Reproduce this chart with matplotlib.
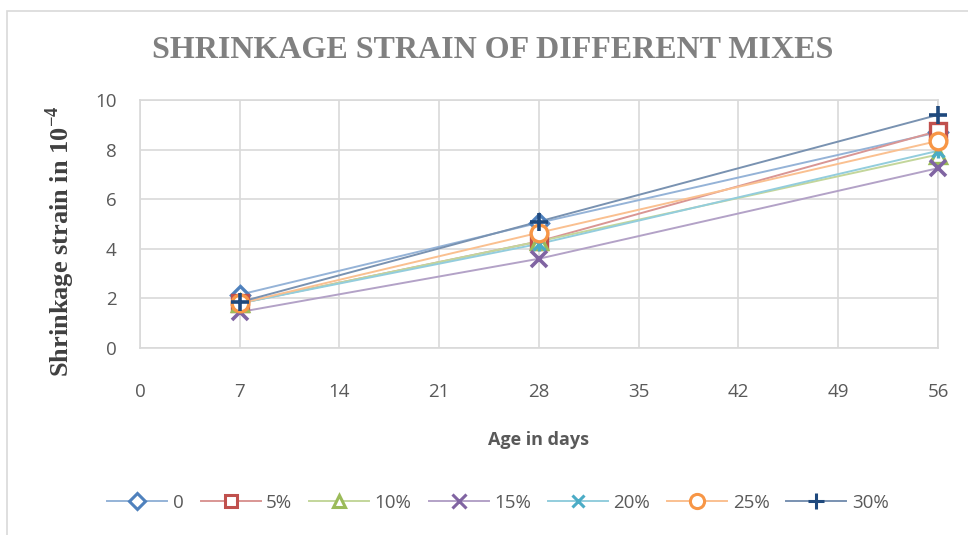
import matplotlib
matplotlib.use("Agg")
import matplotlib.pyplot as plt
from matplotlib.patches import Rectangle
from matplotlib.lines import Line2D
from matplotlib.colors import to_rgb

days = [7, 28, 56]
series_names = ["0", "5%", "10%", "15%", "20%", "25%", "30%"]
values = {
    "0":   [2.15, 5.05, 8.7],
    "5%":  [1.8, 4.3, 8.75],
    "10%": [1.8, 4.3, 7.8],
    "15%": [1.45, 3.6, 7.25],
    "20%": [1.8, 4.2, 7.95],
    "25%": [1.8, 4.65, 8.35],
    "30%": [1.85, 5.1, 9.4],
}
x_ticks = [0, 7, 14, 21, 28, 35, 42, 49, 56]
y_ticks = [0, 2, 4, 6, 8, 10]

colors = ["#4F81BD", "#C0504D", "#9BBB59", "#8064A2", "#4BACC6", "#F79646", "#1F497D"]
markers = ["D", "s", "^", "x", "X", "o", "+"]
msizes = [9, 11, 11, 12, 10, 12, 13]


def lighten(c, f=0.5):
    r, g, b = to_rgb(c)
    return (r + (1 - r) * f, g + (1 - g) * f, b + (1 - b) * f)


fig = plt.figure(figsize=(9.68, 5.35), dpi=100)
fig.patches.append(Rectangle((7/968, -0.1), 1.2, (535-11)/535 + 0.1, transform=fig.transFigure,
                             fill=False, edgecolor="#D9D9D9", linewidth=1.2))
ax = fig.add_axes([140/968, (535-348)/535, (938-140)/968, (348-100)/535])

sans = ["Liberation Sans Narrow", "Open Sans", "DejaVu Sans"]


def draw_marker(target, xs, ys, c, m, ms, **kw):
    if m == "X":
        target.plot(xs, ys, linestyle="none", marker="x", markersize=ms - 2, markeredgewidth=2.4,
                    color=c, **kw)
        target.plot(xs, ys, linestyle="none", marker="|", markersize=ms, markeredgewidth=2.4,
                    color=c, **kw)
    elif m in ("x", "+"):
        target.plot(xs, ys, linestyle="none", marker=m, markersize=ms, markeredgewidth=2.6,
                    color=c, **kw)
    else:
        target.plot(xs, ys, linestyle="none", marker=m, markersize=ms, markeredgewidth=2.4,
                    markeredgecolor=c, markerfacecolor="white", **kw)


for name, c in zip(series_names, colors):
    ax.plot(days, values[name], color=lighten(c, 0.4), linewidth=1.4, zorder=2)
for name, c, m, ms in zip(series_names, colors, markers, msizes):
    draw_marker(ax, days, values[name], c, m, ms, zorder=3, clip_on=False)

ax.set_xlim(0, 56)
ax.set_ylim(0, 10)
ax.set_xticks(x_ticks)
ax.set_yticks(y_ticks)
ax.set_xticklabels([str(t) for t in x_ticks], family=sans, fontsize=13.5, color="#595959")
ax.set_yticklabels([str(t) for t in y_ticks], family=sans, fontsize=13.5, color="#595959")
ax.tick_params(axis="both", length=0)
ax.tick_params(axis="x", pad=25)
ax.tick_params(axis="y", pad=17)
ax.grid(True, color="#D9D9D9", linewidth=1.2)
ax.set_axisbelow(True)
for s in ax.spines.values():
    s.set_color("#D9D9D9")
    s.set_linewidth(1.2)

ax.set_xlabel("Age in days", family=sans, fontsize=13, fontweight="bold", color="#595959", labelpad=22)
ax.set_ylabel("Shrinkage strain in 10$^{\\mathregular{-4}}$", family="Liberation Serif", fontsize=19,
              fontweight="bold", color="#404040")
ax.yaxis.label.set_va("center")
ax.yaxis.set_label_coords(-0.1, 0.43)

fig.text(493/968, 1 - 50/535, "SHRINKAGE STRAIN OF DIFFERENT MIXES", family="Liberation Serif",
         fontsize=23, fontweight="bold", color="#808080", ha="center", va="center")

handles = []
for name, c, m, ms in zip(series_names, colors, markers, msizes):
    mk = "x" if m == "X" else m
    h = Line2D([0], [0], color=lighten(c, 0.4), linewidth=1.4, marker=mk, markersize=ms * 0.85,
               markeredgewidth=2.2, markeredgecolor=c,
               markerfacecolor="white" if m in ("D", "s", "^", "o") else c)
    handles.append(h)
fig.legend(handles, series_names, loc="center", bbox_to_anchor=(498/968, 1 - 503/535), ncol=7,
           frameon=False, prop={"family": sans, "size": 13.5}, labelcolor="#595959",
           handlelength=3.2, columnspacing=0.9, handletextpad=0.3)

fig.savefig("out.png", dpi=100)
